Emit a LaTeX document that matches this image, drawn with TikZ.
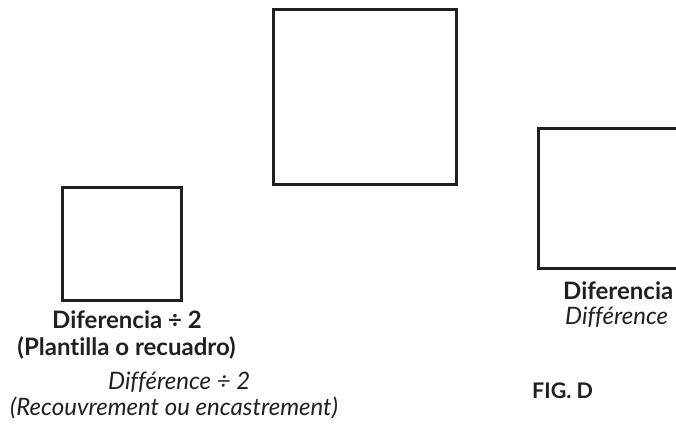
\documentclass[tikz,border=0pt]{standalone}
\usepackage{fontspec}
\setmainfont[Ligatures=NoCommon]{Lato}
\definecolor{ink}{HTML}{231F20}
\begin{document}
\begin{tikzpicture}[x=1pt,y=-1pt,
  sq/.style={draw=ink,line width=3pt},
  bold/.style={inner sep=0pt,text=ink,font=\fontsize{24}{28}\selectfont\bfseries},
  ital/.style={inner sep=0pt,text=ink,font=\fontsize{24}{28}\selectfont\itshape},
  figlab/.style={inner sep=0pt,text=ink,font=\fontsize{21.5}{24}\selectfont\bfseries}]
\useasboundingbox (0,0) rectangle (676,423);
\clip (0,0) rectangle (676,423);
\draw[sq] (273,9) rectangle (456,184);
\draw[sq] (62,187) rectangle (181,300);
\draw[sq] (538,128) rectangle (700,268);
\node[bold,anchor=base] (l1) at (127,328) {Diferencia ÷ 2};
\node[bold,anchor=base] (l2) at (126.5,355) {(Plantilla o recuadro)};
\node[ital,anchor=base west] (l3) at (108,389) {Différence ÷ 2};
\node[ital,anchor=base west] (l4) at (10,415) {(Recouvrement ou encastrement)};
\node[bold,anchor=base west] (r1) at (563,299) {Diferencia};
\node[ital,anchor=base west] (r2) at (565,324) {Différence};
\node[figlab,anchor=base west] (fig) at (532,398) {FIG. D};
\end{tikzpicture}
\end{document}
